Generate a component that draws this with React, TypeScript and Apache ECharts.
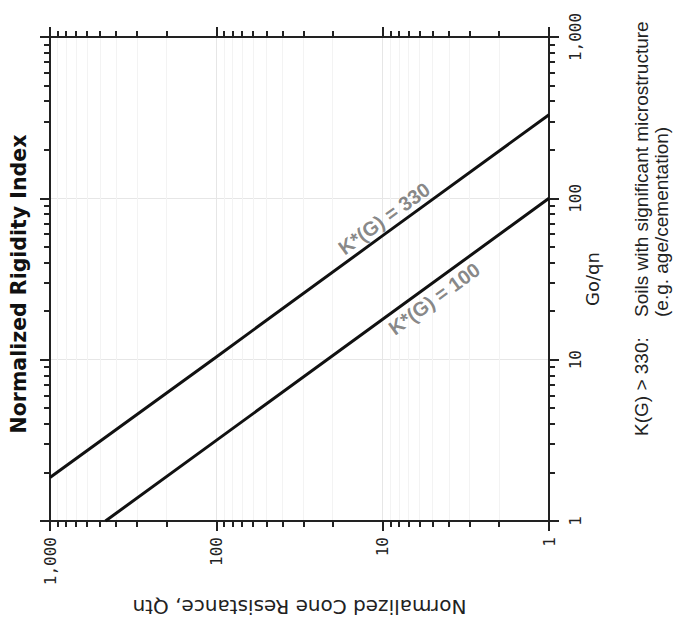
import React, { useEffect, useRef } from "react";
import * as echarts from "echarts";

// Tick positions (log decades and minor ticks)
const qtnMajor = [1, 10, 100, 1000];
const goqnMajor = [1, 10, 100, 1000];
const minorTicks = [2, 3, 4, 5, 6, 7, 8, 9, 20, 30, 40, 50, 60, 70, 80, 90, 200, 300, 400, 500, 600, 700, 800, 900];

// Lines: Qtn (x) vs Go/qn (y)
const k330Qtn = [1000, 100, 10, 1];
const k330GoQn = [1.86, 10.4, 58.7, 330];
const k100Qtn = [464, 100, 10, 1];
const k100GoQn = [1, 3.16, 17.8, 100];

// Line labels and their anchor points
const lineLabels = ["K*(G) = 330", "K*(G) = 100"];
const labelQtn = [9.8, 4.9];
const labelGoQn = [75, 23.8];

const titleText = "Normalized Rigidity Index";
const xName = "Normalized Cone Resistance, Qtn";
const yName = "Go/qn";
const noteLead = "K(G) > 330:";
const noteLines = ["Soils with significant microstructure", "(e.g. age/cementation)"];

const axisColor = "#222222";

function fmt(v: number): string {
  return String(Math.round(v)).replace(/\B(?=(\d{3})+(?!\d))/g, ",");
}

function makeAxis(kind: "x" | "y", position: string, major: boolean, extra: any = {}) {
  const base: any = {
    type: "log",
    logBase: 10,
    min: 1,
    max: 1000,
    position,
    axisLine: { show: major, onZero: false, lineStyle: { color: axisColor, width: 2 } },
    axisTick: {
      show: true,
      inside: false,
      length: major ? 10 : 6,
      customValues: major ? (kind === "x" ? qtnMajor : goqnMajor) : minorTicks,
      lineStyle: { color: axisColor, width: 2 },
    },
    axisLabel: { show: false },
    splitLine: { show: false },
  };
  if (kind === "x") base.inverse = true;
  return Object.assign(base, extra);
}

export default function App() {
  const ref = useRef<HTMLDivElement>(null);

  useEffect(() => {
    if (!ref.current) return;
    const chart = echarts.init(ref.current, undefined, { renderer: "svg" });

    const labelStyle = {
      show: true,
      rotate: 90,
      margin: 16,
      formatter: (v: number) => fmt(v),
      fontFamily: "DejaVu Sans Mono",
      fontSize: 16,
      color: "#222",
    };

    const noteFont = '19px "Liberation Sans"';

    const option: any = {
      animation: false,
      backgroundColor: "#ffffff",
      grid: { left: 50, right: 124, top: 37, bottom: 99 },
      xAxis: [
        makeAxis("x", "bottom", true, {
          axisLabel: { ...labelStyle, customValues: qtnMajor },
          splitLine: { show: true, lineStyle: { color: "#e6e6e6", width: 1 } },
          name: xName,
          nameLocation: "middle",
          nameRotate: 180,
          nameGap: 76,
          nameMoveOverlap: false,
          nameTextStyle: { fontFamily: "DejaVu Sans", fontSize: 20, color: "#222" },
        }),
        makeAxis("x", "bottom", false, {
          splitLine: { show: true, lineStyle: { color: "#f3f3f3", width: 1 } },
        }),
        makeAxis("x", "top", true),
        makeAxis("x", "top", false),
      ],
      yAxis: [
        makeAxis("y", "right", true, {
          axisLabel: { ...labelStyle, customValues: goqnMajor, margin: 18 },
          splitLine: { show: true, lineStyle: { color: "#e6e6e6", width: 1 } },
          name: yName,
          nameLocation: "middle",
          nameRotate: 90,
          nameGap: 34,
          nameMoveOverlap: false,
          nameTextStyle: { fontFamily: "DejaVu Sans", fontSize: 18, color: "#222" },
        }),
        makeAxis("y", "right", false),
        makeAxis("y", "left", true),
        makeAxis("y", "left", false),
      ],
      series: [
        {
          name: lineLabels[0],
          type: "line",
          xAxisIndex: 0,
          yAxisIndex: 0,
          data: k330Qtn.map((q, i) => [q, k330GoQn[i]]),
          symbol: "none",
          silent: true,
          lineStyle: { color: "#111", width: 3 },
          z: 5,
        },
        {
          name: lineLabels[1],
          type: "line",
          xAxisIndex: 0,
          yAxisIndex: 0,
          data: k100Qtn.map((q, i) => [q, k100GoQn[i]]),
          symbol: "none",
          silent: true,
          lineStyle: { color: "#111", width: 3 },
          z: 5,
        },
        {
          type: "scatter",
          xAxisIndex: 0,
          yAxisIndex: 0,
          symbolSize: 0,
          silent: true,
          data: labelQtn.map((q, i) => ({
            value: [q, labelGoQn[i]],
            label: { formatter: lineLabels[i] },
          })),
          label: {
            show: true,
            position: "inside",
            rotate: 36,
            fontFamily: "Liberation Sans",
            fontWeight: "bold",
            fontSize: 20,
            color: "#686868",
          },
          z: 6,
        },
      ],
      graphic: [
        {
          type: "text",
          x: 19,
          y: 284,
          rotation: Math.PI / 2,
          style: {
            text: titleText,
            font: 'bold 20.5px "DejaVu Sans"',
            fill: "#111",
            align: "center",
            verticalAlign: "middle",
          },
        },
        {
          type: "text",
          x: 641,
          y: 436,
          rotation: Math.PI / 2,
          style: {
            text: noteLead,
            font: noteFont,
            fill: "#222",
            align: "left",
            verticalAlign: "middle",
          },
        },
        {
          type: "text",
          x: 641,
          y: 317,
          rotation: Math.PI / 2,
          style: {
            text: noteLines[0],
            font: noteFont,
            fill: "#222",
            align: "left",
            verticalAlign: "middle",
          },
        },
        {
          type: "text",
          x: 661,
          y: 317,
          rotation: Math.PI / 2,
          style: {
            text: noteLines[1],
            font: noteFont,
            fill: "#222",
            align: "left",
            verticalAlign: "middle",
          },
        },
      ],
    };

    chart.setOption(option);
    return () => chart.dispose();
  }, []);

  return (
    <div
      ref={ref}
      style={{ position: "absolute", left: 0, top: 0, width: 673, height: 622, background: "#fff" }}
    />
  );
}
